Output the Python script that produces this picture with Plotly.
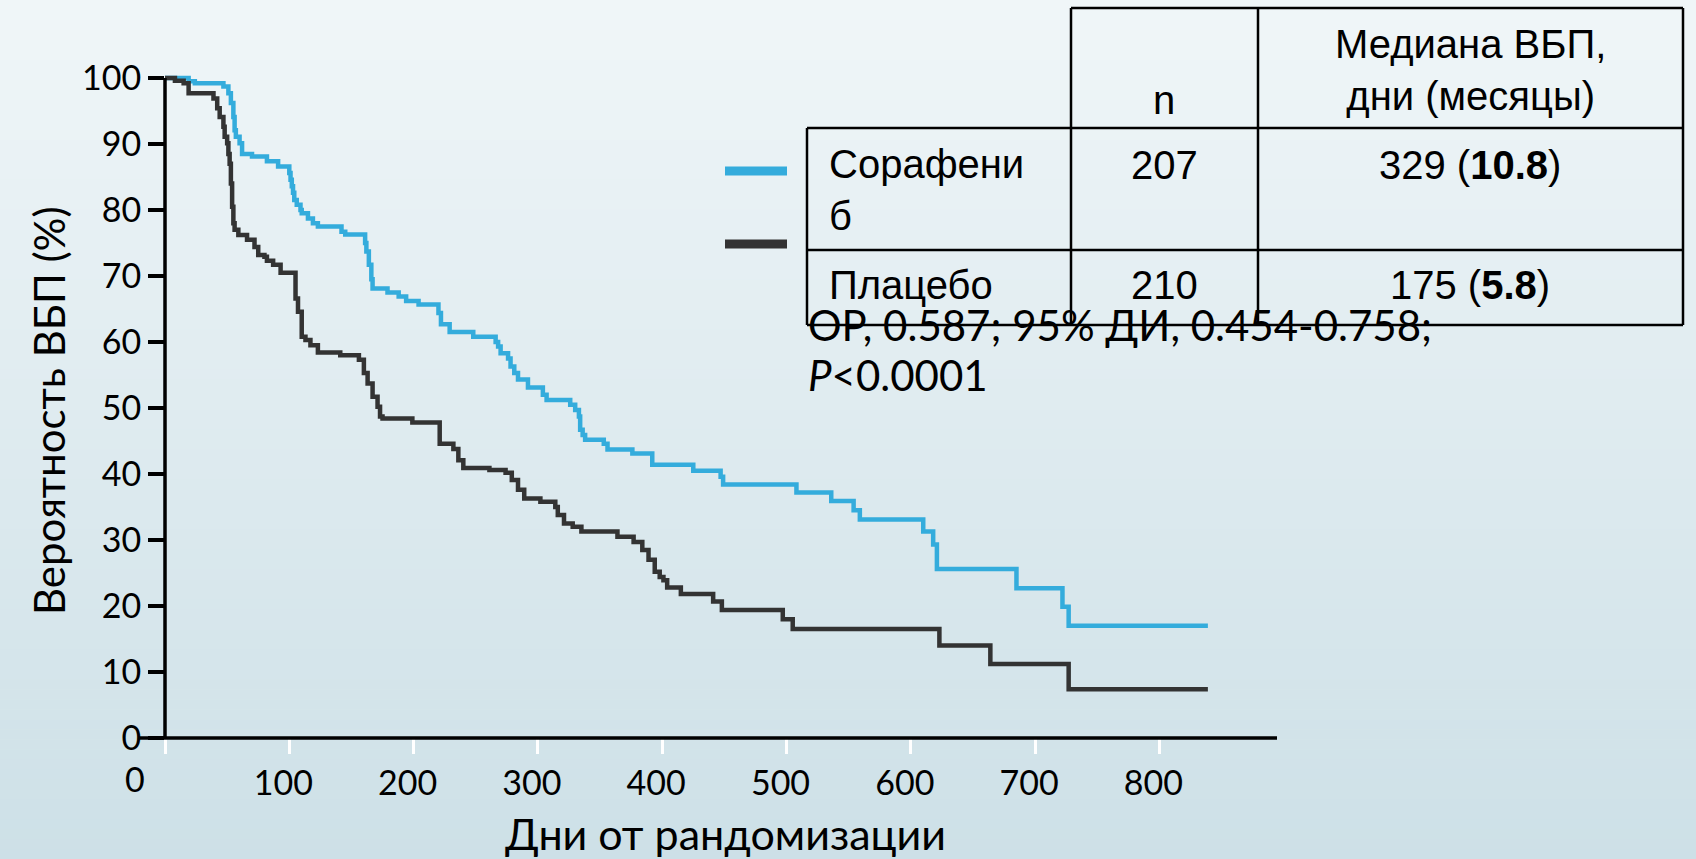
import plotly.graph_objects as go

# ---------------- data ----------------
sorafenib_days = [0, 19, 24, 47, 51, 53, 55, 56, 57, 60, 62, 70, 82, 91, 100, 101, 102, 103, 104, 106,
                  109, 110, 115, 119, 123, 142, 145, 161, 162, 164, 166, 167, 179, 188, 194, 204, 220, 222, 229, 248,
                  266, 268, 270, 276, 278, 281, 284, 292, 304, 307, 326, 330, 333, 334, 336, 338, 353, 356, 376, 392,
                  425, 447, 449, 508, 536, 554, 559, 610, 618, 621, 685, 722, 727, 839]
sorafenib_pfs = [100, 99.5, 99.2, 98.7, 97.7, 96.2, 94.1, 92.1, 91.1, 90.1, 88.5, 88.1, 87.4, 86.6, 85.6, 84.6, 83.6, 82.6, 81.5, 80.8,
                 80.0, 79.5, 78.7, 78.0, 77.5, 76.7, 76.3, 75.0, 73.7, 71.7, 69.5, 68.1, 67.5, 66.9, 66.2, 65.7, 64.4, 62.7, 61.5, 60.8,
                 60.0, 59.3, 58.3, 57.5, 56.3, 55.3, 54.3, 53.1, 52.0, 51.2, 50.5, 49.7, 48.7, 46.7, 45.9, 45.2, 44.6, 43.7, 43.1, 41.4,
                 40.5, 39.6, 38.4, 37.2, 35.9, 34.5, 33.1, 31.3, 29.3, 25.6, 22.7, 19.9, 17.0, 17.0]

placebo_days = [0, 8, 15, 19, 39, 42, 44, 47, 48, 50, 51, 52, 53, 54, 55, 56, 59, 66, 72, 75,
                80, 82, 87, 93, 105, 107, 110, 113, 117, 123, 141, 156, 160, 163, 167, 171, 173, 175, 199, 221,
                232, 236, 240, 261, 274, 279, 284, 289, 302, 314, 316, 321, 328, 335, 364, 377, 384, 389, 394, 398,
                401, 404, 415, 441, 448, 497, 505, 623, 664, 727, 839]
placebo_pfs = [100, 99.6, 99.2, 97.7, 96.9, 95.4, 94.1, 92.6, 91.1, 90.1, 88.5, 87.0, 84.0, 80.5, 78.0, 77.0, 76.2, 75.5, 74.4, 73.2,
               72.9, 72.3, 71.7, 70.5, 66.6, 64.6, 60.8, 60.3, 59.5, 58.4, 58.0, 57.3, 55.3, 53.7, 51.7, 50.2, 48.7, 48.4, 47.8, 44.6,
               43.8, 42.1, 40.9, 40.6, 40.2, 39.1, 37.6, 36.3, 35.8, 35.0, 33.8, 32.5, 32.0, 31.3, 30.5, 29.7, 28.5, 27.0, 25.2, 24.4,
               23.9, 22.8, 21.8, 20.7, 19.4, 18.0, 16.5, 14.0, 11.2, 7.4, 7.4]

x_ticks = [0, 100, 200, 300, 400, 500, 600, 700, 800]
y_ticks = [0, 10, 20, 30, 40, 50, 60, 70, 80, 90, 100]

arm_names = ["Сорафени<br>б", "Плацебо"]
arm_n = ["207", "210"]
arm_median = ["329 (<b>10.8</b>)", "175 (<b>5.8</b>)"]
header_n = "n"
header_median = "Медиана ВБП,<br>дни (месяцы)"
stats_line1 = "ОР, 0.587; 95% ДИ, 0.454-0.758;"
stats_line2 = "<i>P</i>&lt;0.0001"
x_title = "Дни от рандомизации"
y_title = "Вероятность ВБП (%)"

# ---------------- layout geometry ----------------
W, H = 1696, 859
L, R, T, B = 165, 419, 74, 121
PW = W - L - R
PH = H - T - B
XMAX = PW / 1.243
YMAX = PH / 6.6

BLUE = "#34acdc"
DARK = "#333333"
GEO = "Lato, 'Open Sans', sans-serif"
ARIAL = "'Liberation Sans', Arial, sans-serif"


def px(xp):
    return (xp - L) / PW


def py(yp):
    return (H - B - yp) / PH


fig = go.Figure()
fig.add_trace(go.Scatter(x=sorafenib_days, y=sorafenib_pfs, mode="lines", name="Сорафениб",
                         line=dict(shape="hv", color=BLUE, width=4.5)))
fig.add_trace(go.Scatter(x=placebo_days, y=placebo_pfs, mode="lines", name="Плацебо",
                         line=dict(shape="hv", color=DARK, width=4.5)))

shapes = []
# background gradient
top_c = (240, 246, 248)
bot_c = (205, 224, 231)
nb = 86
for i in range(nb):
    f = (i + 0.5) / nb
    c = tuple(round(top_c[k] + (bot_c[k] - top_c[k]) * f) for k in range(3))
    y0 = i * H / nb
    y1 = (i + 1) * H / nb + 0.6
    shapes.append(dict(type="rect", xref="paper", yref="paper", x0=px(-5), x1=px(W + 5),
                       y0=py(y1), y1=py(y0), fillcolor="rgb(%d,%d,%d)" % c,
                       line=dict(width=0), layer="below"))

# axis lines
shapes.append(dict(type="line", xref="paper", yref="paper", x0=px(138), x1=px(1277), y0=0, y1=0,
                   line=dict(color="black", width=3.5), layer="above"))
shapes.append(dict(type="line", xref="paper", yref="paper", x0=0, x1=0, y0=0, y1=py(78),
                   line=dict(color="black", width=3.5), layer="above"))

# table lines
tl = dict(color="black", width=2.5)
for (x0, y0, x1, y1) in [
    (1071, 8, 1683, 8),
    (807, 128, 1683, 128),
    (807, 250, 1683, 250),
    (807, 325, 1683, 325),
    (807, 128, 807, 325),
    (1071, 8, 1071, 325),
    (1258, 8, 1258, 325),
    (1683, 8, 1683, 325),
]:
    shapes.append(dict(type="line", xref="paper", yref="paper", x0=px(x0), x1=px(x1),
                       y0=py(y0), y1=py(y1), line=tl, layer="above"))

# legend bars
shapes.append(dict(type="line", xref="paper", yref="paper", x0=px(725), x1=px(787), y0=py(171), y1=py(171),
                   line=dict(color=BLUE, width=9), layer="above"))
shapes.append(dict(type="line", xref="paper", yref="paper", x0=px(725), x1=px(787), y0=py(244), y1=py(244),
                   line=dict(color=DARK, width=9), layer="above"))

ann = []


def add_text(text, x, y, size, family, xanchor="center", yanchor="middle", angle=0):
    ann.append(dict(text=text, x=px(x), y=py(y), xref="paper", yref="paper", showarrow=False,
                    xanchor=xanchor, yanchor=yanchor, textangle=angle, align="left" if xanchor == "left" else "center",
                    font=dict(size=size, family=family, color="black")))


add_text(x_title, 725, 833, 43, GEO)
add_text(y_title, 49, 411, 42, GEO, angle=-90)
add_text("0", 135, 778, 34, GEO)

# table texts
TS = 40
add_text(header_n, 1164, 100, TS, ARIAL)
add_text(header_median, 1470, 70, TS, ARIAL)
add_text(arm_names[0], 827, 190, TS, ARIAL, xanchor="left")
add_text(arm_n[0], 1164, 165, TS, ARIAL)
add_text(arm_median[0], 1470, 165, TS, ARIAL)
add_text(arm_names[1], 827, 285, TS, ARIAL, xanchor="left")
add_text(arm_n[1], 1164, 285, TS, ARIAL)
add_text(arm_median[1], 1470, 285, TS, ARIAL)

add_text(stats_line1, 806, 325, 42, GEO, xanchor="left")
add_text(stats_line2, 806, 375, 42, GEO, xanchor="left")

fig.update_layout(
    width=W, height=H,
    margin=dict(l=L, r=R, t=T, b=B, pad=0),
    paper_bgcolor="rgb(222,235,239)",
    plot_bgcolor="rgba(0,0,0,0)",
    showlegend=False,
    shapes=shapes,
    annotations=ann,
    xaxis=dict(range=[0, XMAX], tickvals=x_ticks, ticktext=[""] + [str(v) for v in x_ticks[1:]],
               ticks="outside", tickcolor="white", ticklen=15, tickwidth=3,
               showline=False, showgrid=False, zeroline=False, ticklabelshift=-6,
               tickfont=dict(size=34, family=GEO, color="black")),
    yaxis=dict(range=[0, YMAX], tickvals=y_ticks, ticks="outside", tickcolor="black", ticklen=16, tickwidth=3.5,
               showline=False, showgrid=False, zeroline=False,
               tickfont=dict(size=34, family=GEO, color="black")),
)

fig.write_html("out.html")
